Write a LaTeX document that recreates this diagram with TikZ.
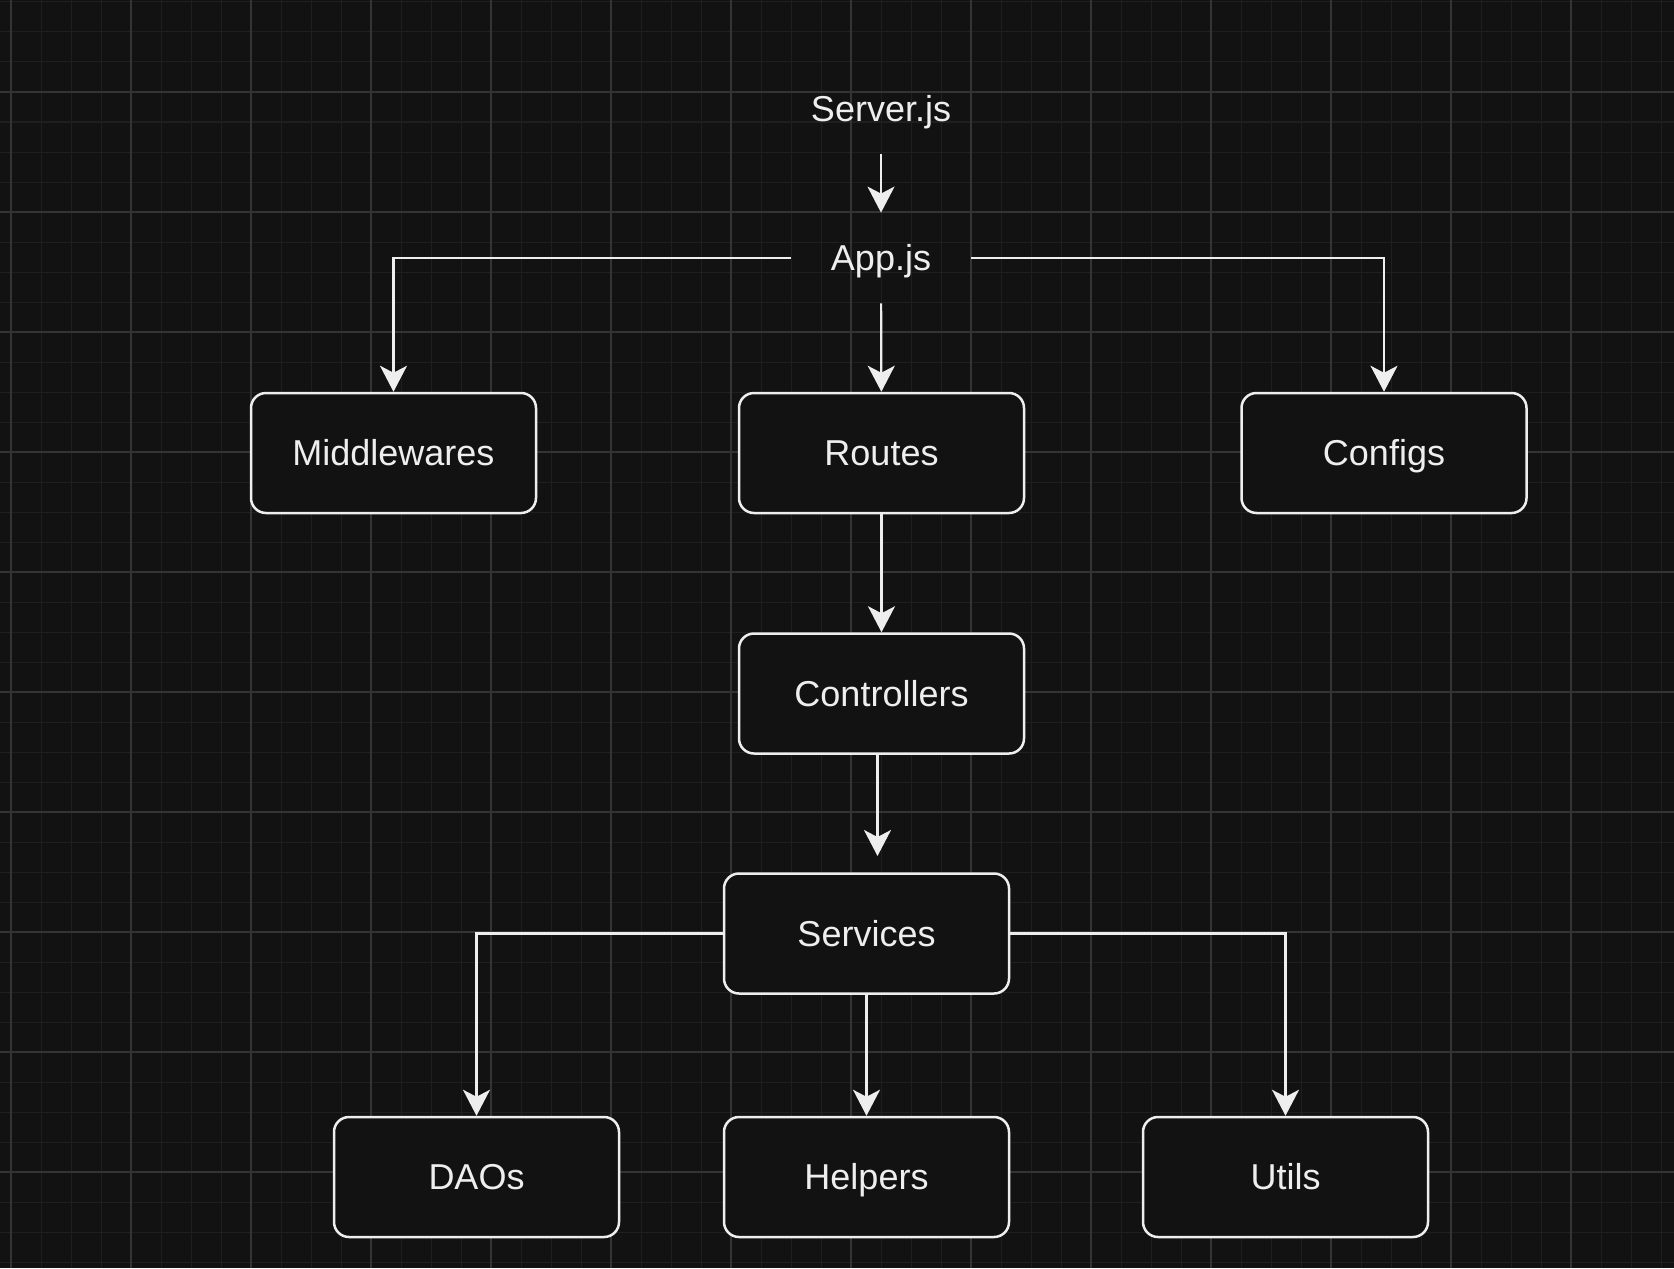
\documentclass[tikz,border=0pt]{standalone}
\usepackage{fontspec}
\setmainfont{Liberation Sans}
\usetikzlibrary{positioning,arrows.meta}

\definecolor{bgcol}{HTML}{121212}
\definecolor{gridminor}{HTML}{1F1F1F}
\definecolor{gridmajor}{HTML}{343434}
\definecolor{fgcol}{HTML}{EEEEEE}

\tikzset{
  module/.style={rectangle, draw=fgcol, line width=1.25pt, rounded corners=7.5pt,
    fill=bgcol, text=fgcol, minimum width=142.5pt, minimum height=60pt,
    text height=16pt, text depth=3.5pt},
  entry/.style={rectangle, text=fgcol, minimum width=90pt, minimum height=45pt,
    text height=16pt, text depth=3.5pt},
  link/.style={draw=fgcol, line width=1.1pt},
}

\begin{document}
\begin{tikzpicture}[x=0.5pt, y=-0.5pt, >={Stealth[length=13pt, width=13.5pt, inset=3.5pt]},
  font=\fontsize{18pt}{22pt}\selectfont]
  % Background and grid
  \fill[bgcol] (0,0) rectangle (1674,1268);
  \useasboundingbox (0,0) rectangle (1674,1268);
  \foreach \x in {11,41,...,1661}
    \draw[gridminor, line width=0.5pt] (\x,0) -- (\x,1268);
  \foreach \y in {2,32,...,1262}
    \draw[gridminor, line width=0.5pt] (0,\y) -- (1674,\y);
  \foreach \x in {11,131,...,1571}
    \draw[gridmajor, line width=0.6pt] (\x,0) -- (\x,1268);
  \foreach \y in {92,212,...,1172}
    \draw[gridmajor, line width=0.6pt] (0,\y) -- (1674,\y);

  % Nodes
  \node[entry] (server) at (881,109) {Server.js};
  \node[entry] (app) at (881,258) {App.js};
  \node[module] (middlewares) at (393.5,453) {Middlewares};
  \node[module] (routes) at (881.5,453) {Routes};
  \node[module] (configs) at (1384,453) {Configs};
  \node[module] (controllers) at (881.5,693.5) {Controllers};
  \node[module] (services) at (866.5,933.5) {Services};
  \node[module] (daos) at (476.5,1177) {DAOs};
  \node[module] (helpers) at (866.5,1177) {Helpers};
  \node[module] (utils) at (1285.5,1177) {Utils};
  \coordinate (servicesIn) at (877.5,856);

  % Arrows
  \draw[link, ->] (server) -- (app);
  \draw[link, ->] (app.west) -| (middlewares.north);
  \draw[link, ->] (app) -- (routes);
  \draw[link, ->] (app.east) -| (configs.north);
  \draw[link, ->] (routes) -- (controllers);
  \draw[link, ->] (controllers.south -| servicesIn) -- (servicesIn);
  \draw[link, ->] (services.west) -| (daos.north);
  \draw[link, ->] (services) -- (helpers);
  \draw[link, ->] (services.east) -| (utils.north);
\end{tikzpicture}
\end{document}
